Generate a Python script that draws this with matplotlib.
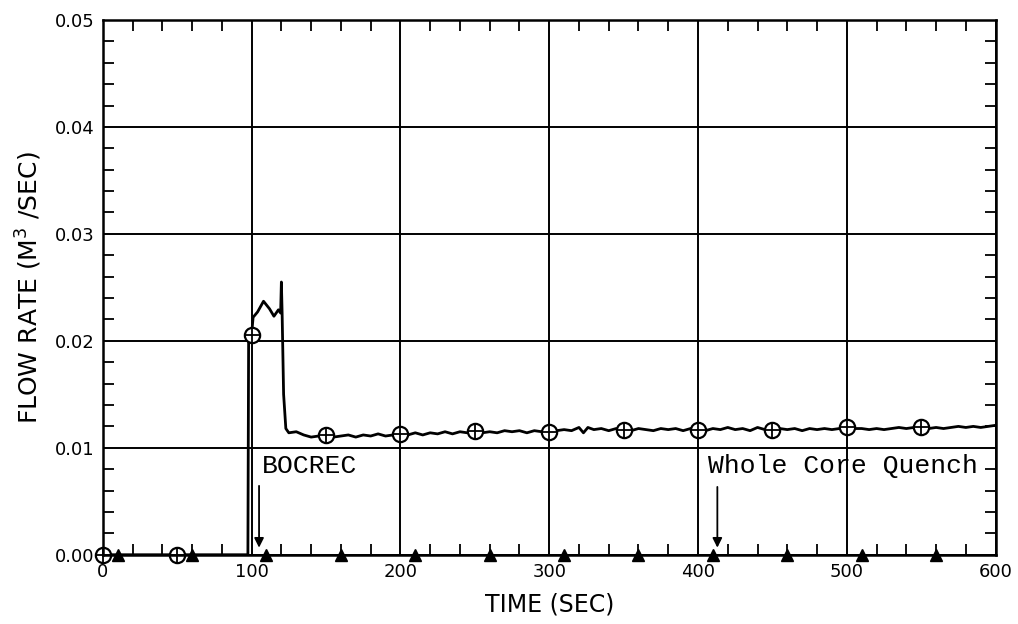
import numpy as np
import matplotlib
matplotlib.use('Agg')
from matplotlib import pyplot as plt
from matplotlib.ticker import MultipleLocator, FormatStrFormatter

# measured flow rate (m3/s) vs time (s)
t_flow = [0, 50, 97.5, 98, 100, 101, 104, 108, 112, 115, 118, 119.5, 120, 120.5, 121.5, 123,
          125, 130, 135, 140, 145, 150, 155, 160, 165, 170, 175, 180, 185, 190, 195,
          200, 205, 210, 215, 220, 225, 230, 235, 240, 245, 250, 255, 260, 265, 270,
          275, 280, 285, 290, 295, 300, 305, 310, 315, 320, 323, 326, 330, 335, 340,
          345, 350, 355, 360, 365, 370, 375, 380, 385, 390, 395, 400, 405, 410, 415,
          420, 425, 430, 435, 440, 445, 450, 455, 460, 465, 470, 475, 480, 485, 490,
          495, 500, 505, 510, 515, 520, 525, 530, 535, 540, 545, 550, 555, 560, 565,
          570, 575, 580, 585, 590, 595, 600]
q_flow = [0.0, 0.0, 0.0, 0.0205, 0.0206, 0.0222, 0.0227, 0.0237, 0.0230, 0.0223, 0.0229, 0.0226, 0.0255, 0.0226, 0.0150, 0.0118,
          0.0114, 0.0115, 0.0112, 0.0110, 0.0111, 0.0112, 0.0110, 0.0111, 0.0112, 0.0110, 0.0112, 0.0111, 0.0113, 0.0111, 0.0112,
          0.0113, 0.0112, 0.0114, 0.0112, 0.0114, 0.0113, 0.0115, 0.0113, 0.0115, 0.0114, 0.0116, 0.0114, 0.0115, 0.0114, 0.0116,
          0.0115, 0.0116, 0.0114, 0.0116, 0.0115, 0.0115, 0.0116, 0.0117, 0.0116, 0.0119, 0.0114, 0.0119, 0.0117, 0.0118, 0.0116,
          0.0118, 0.0117, 0.0116, 0.0118, 0.0117, 0.0116, 0.0118, 0.0117, 0.0118, 0.0116, 0.0118, 0.0117, 0.0116, 0.0118, 0.0117,
          0.0119, 0.0117, 0.0118, 0.0116, 0.0119, 0.0117, 0.0117, 0.0118, 0.0117, 0.0118, 0.0116, 0.0118, 0.0117, 0.0118, 0.0117,
          0.0118, 0.0119, 0.0118, 0.0118, 0.0117, 0.0118, 0.0117, 0.0118, 0.0119, 0.0118, 0.0119, 0.0119, 0.0118, 0.0119, 0.0118,
          0.0119, 0.0120, 0.0119, 0.0120, 0.0119, 0.0120, 0.0121]

# second channel stays at zero
t_zero = [0, 600]
q_zero = [0.0, 0.0]

circle_marks = [0, 50, 100, 150, 200, 250, 300, 350, 400, 450, 500, 550]
triangle_marks = [10, 60, 110, 160, 210, 260, 310, 360, 410, 460, 510, 560]

# (label, arrow time, arrow top, label x, label y)
events = [('BOCREC', 105, 0.0067, 107, 0.0072),
          ('Whole Core Quench', 413, 0.0066, 407, 0.0072)]

fig = plt.figure(figsize=(10.18, 6.24), dpi=100)
ax = fig.add_axes([0.101, 0.111, 0.877, 0.857])

ax.plot(t_zero, q_zero, color='black', lw=2)
ax.plot(triangle_marks, np.interp(triangle_marks, t_zero, q_zero), ls='none',
        marker='^', ms=8, color='black', clip_on=False)
ax.plot(t_flow, q_flow, color='black', lw=2)
yc = np.interp(circle_marks, t_flow, q_flow)
yc[2] = 0.0205
ax.plot(circle_marks, yc, ls='none', marker='o', ms=11, mfc='white', mec='black', mew=1.6, clip_on=False)
ax.plot(circle_marks, yc, ls='none', marker='+', ms=10, color='black', mew=1.3, clip_on=False)

for name, tx, ytop, lx, ly in events:
    ax.annotate('', xy=(tx, 0.0004), xytext=(tx, ytop),
                arrowprops=dict(arrowstyle='-|>', color='black', lw=1.3, mutation_scale=14))
    ax.text(lx, ly, name, family='Liberation Mono', fontsize=19, va='bottom', ha='left')

ax.set_xlim(0, 600)
ax.set_ylim(0, 0.05)
ax.xaxis.set_major_locator(MultipleLocator(100))
ax.xaxis.set_minor_locator(MultipleLocator(20))
ax.yaxis.set_major_locator(MultipleLocator(0.01))
ax.yaxis.set_minor_locator(MultipleLocator(0.002))
ax.yaxis.set_major_formatter(FormatStrFormatter('%.2f'))
ax.grid(True, which='major', color='black', lw=1.4)
ax.tick_params(which='both', direction='in', top=True, right=True, labelsize=13)
ax.tick_params(which='major', length=0, pad=6)
ax.tick_params(which='minor', length=8, width=1.3)
for s in ax.spines.values():
    s.set_linewidth(1.8)

ax.set_xlabel('TIME (SEC)', fontsize=17, labelpad=8)
ax.set_ylabel('FLOW RATE (M$^3$ /SEC)', fontsize=18, labelpad=8)

plt.savefig('out.png', dpi=100)
